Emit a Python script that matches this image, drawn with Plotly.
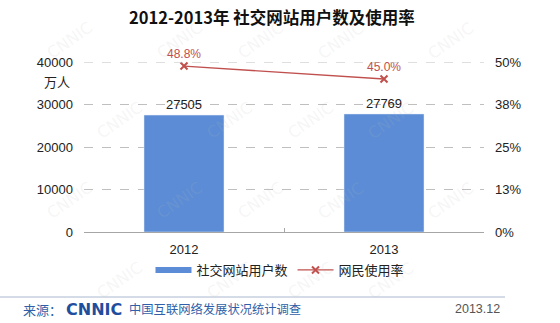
import plotly.graph_objects as go

years = ["2012", "2013"]
users = [27505, 27769]          # 万人
rate = [0.488, 0.450]           # 网民使用率
rate_labels = ["48.8%", "45.0%"]
left_ticks = [0, 10000, 20000, 30000, 40000]
left_ticktext = ["0", "10000", "20000", "30000", "40000"]
right_tickvals = [0, 0.125, 0.25, 0.375, 0.5]
right_ticktext = ["0%", "13%", "25%", "38%", "50%"]

BAR = "#5B8CD5"
LINE = "#C0504D"
FONT = "Liberation Sans, Noto Sans CJK SC, sans-serif"
CJK = "Noto Sans CJK SC, sans-serif"

W, H = 560, 323
L, R, T, B = 84, 484, 62, 232

def px(x):
    return (x - L) / (R - L)

def py(y):
    return (B - y) / (B - T)

fig = go.Figure()
fig.add_trace(go.Bar(
    x=years, y=users, name="社交网站用户数", marker_color=BAR,
    text=[str(v) for v in users], textposition="outside",
    textfont=dict(size=13, color="#222", family=FONT), cliponaxis=False,
    width=0.4, showlegend=False,
))
# legend swatch for the bars (draws nothing in the plot)
fig.add_trace(go.Scatter(
    x=[None], y=[None], mode="lines", name="社交网站用户数",
    line=dict(color=BAR, width=6), showlegend=True,
))
fig.add_trace(go.Scatter(
    x=years, y=rate, name="网民使用率", yaxis="y2", mode="lines+markers+text",
    line=dict(color=LINE, width=1.3),
    marker=dict(symbol="x-thin", size=7, line=dict(color=LINE, width=2), color=LINE),
    text=rate_labels, textposition="top center",
    textfont=dict(size=12, color=LINE, family=FONT), cliponaxis=False,
))

fig.update_layout(
    width=W, height=H,
    margin=dict(l=L, r=W - R, t=T, b=H - B),
    paper_bgcolor="white", plot_bgcolor="white",
    showlegend=True,
    legend=dict(orientation="h", x=0.49, xanchor="center", y=py(270), yanchor="middle",
                font=dict(size=13, family=CJK, color="#222"), itemwidth=36,
                traceorder="normal", tracegroupgap=0),
    bargap=0.6,
    xaxis=dict(
        type="category", showline=True, linecolor="#A6A6A6", linewidth=1,
        ticks="inside", tickson="boundaries", ticklen=4, tickcolor="#A6A6A6",
        tickfont=dict(size=13, family=FONT, color="#222"), showgrid=False,
        ticklabelstandoff=5,
    ),
    yaxis=dict(
        range=[0, 40000], tickvals=left_ticks, ticktext=left_ticktext, showgrid=True,
        gridcolor="#BFBFBF", griddash="dash", gridwidth=1, zeroline=False,
        tickfont=dict(size=13, family=FONT, color="#222"), ticks="", showline=False,
        ticklabelstandoff=10,
    ),
    yaxis2=dict(
        range=[0, 0.5], tickvals=right_tickvals, ticktext=right_ticktext,
        overlaying="y", side="right", showgrid=False, zeroline=False,
        tickfont=dict(size=13, family=FONT, color="#222"), showline=False,
        ticklabelstandoff=10,
    ),
    font=dict(family=FONT),
)

# faint watermark, kept inside the canvas
wm = []
for yy in [40, 120, 200, 280]:
    for xx in range(40, 540, 110):
        off = 50 if (yy // 80) % 2 else 0
        xp = xx + off
        if xp > 520:
            continue
        wm.append(dict(text="CNNIC", x=px(xp), y=py(yy), xref="paper", yref="paper",
                       showarrow=False, textangle=-35, yanchor="middle",
                       font=dict(size=16, family="DejaVu Sans", color="rgba(190,190,190,0.14)")))
anns = wm + [
    dict(text="<b>2012-2013年 社交网站用户数及使用率</b>", x=px(272), y=py(17),
         xref="paper", yref="paper", showarrow=False, yanchor="middle",
         font=dict(size=16.5, family=CJK, color="#111")),
    dict(text="万人", x=px(72), y=py(81), xref="paper", yref="paper", showarrow=False,
         xanchor="right", yanchor="middle", font=dict(size=13, family=CJK, color="#222")),
    dict(text="来源：", x=px(21), y=py(309), xref="paper", yref="paper", showarrow=False,
         xanchor="left", yanchor="middle", font=dict(size=13, family=CJK, color="#2F5FA8")),
    dict(text="<b>CNNIC</b>", x=px(64), y=py(309), xref="paper", yref="paper", showarrow=False,
         xanchor="left", yanchor="middle", font=dict(size=16, family="DejaVu Sans", color="#1F4E9E")),
    dict(text="中国互联网络发展状况统计调查", x=px(127), y=py(309), xref="paper", yref="paper",
         showarrow=False, xanchor="left", yanchor="middle",
         font=dict(size=12.3, family=CJK, color="#2F5FA8")),
    dict(text="2013.12", x=px(502), y=py(309), xref="paper", yref="paper", showarrow=False,
         xanchor="right", yanchor="middle", font=dict(size=12.5, family=FONT, color="#555")),
]
fig.update_layout(annotations=anns)
fig.add_shape(type="line", xref="paper", yref="paper", x0=px(0), x1=px(505),
              y0=py(297), y1=py(297), line=dict(color="#A9B8CF", width=1))
fig.add_shape(type="line", xref="paper", yref="y", x0=0, x1=1, y0=40000, y1=40000,
              line=dict(color="#BFBFBF", width=1, dash="dash"))

fig.write_html("out.html")
